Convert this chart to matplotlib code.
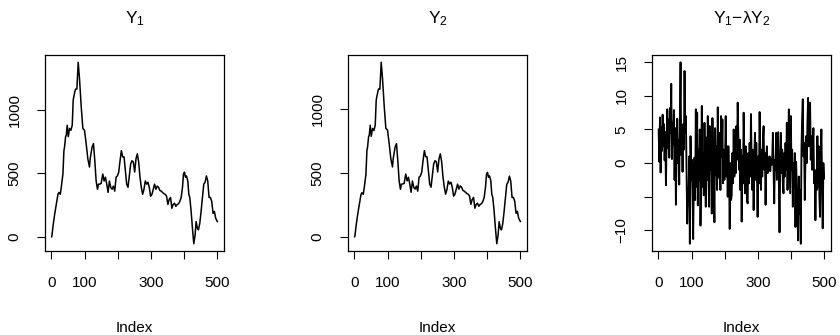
import numpy as np
import matplotlib.pyplot as plt

plt.rcParams['font.family'] = ['Liberation Sans', 'DejaVu Sans']
plt.rcParams['mathtext.fontset'] = 'custom'
plt.rcParams['mathtext.rm'] = 'Liberation Sans'
plt.rcParams['mathtext.it'] = 'Liberation Sans:italic'

# index positions
idx = [1, 2, 5, 10, 15, 20, 23, 27, 30, 35, 38, 40, 43, 45, 48, 51, 55, 59, 63, 66,
       70, 73, 77, 81, 85, 90, 95, 100, 105, 110, 115, 117, 123, 127, 131, 135, 139,
       142, 145, 150, 155, 159, 163, 167, 171, 175, 179, 183, 187, 191, 195, 199,
       203, 207, 211, 215, 219, 223, 227, 231, 235, 239, 243, 247, 251, 255, 259,
       263, 267, 271, 275, 279, 283, 287, 291, 295, 299, 303, 307, 311, 315, 319,
       323, 327, 331, 335, 339, 343, 347, 351, 355, 359, 363, 367, 371, 375, 379,
       383, 387, 391, 395, 398, 401, 404, 407, 411, 414, 417, 421, 425, 429, 433,
       436, 440, 443, 447, 451, 455, 459, 463, 467, 471, 475, 479, 483, 487, 491,
       495, 500]

y1 = [0, 10, 80, 175, 255, 335, 350, 335, 390, 495, 680, 710, 790, 800, 880, 790,
      855, 840, 880, 1080, 1135, 1165, 1165, 1377, 1245, 1030, 855, 840, 735, 615,
      550, 615, 710, 735, 600, 440, 375, 415, 415, 420, 495, 440, 470, 415, 350,
      440, 390, 375, 400, 360, 470, 480, 510, 600, 680, 630, 630, 520, 415, 390,
      480, 575, 600, 590, 510, 615, 655, 590, 470, 390, 335, 375, 440, 415, 430,
      390, 320, 335, 375, 415, 375, 400, 390, 365, 360, 350, 340, 335, 320, 255,
      295, 310, 225, 255, 265, 240, 255, 260, 280, 310, 390, 495, 510, 470, 480,
      440, 335, 310, 200, 65, -55, 15, 120, 65, 55, 105, 200, 310, 415, 430, 480,
      440, 310, 310, 280, 185, 200, 145, 120]

y2 = [0, 9, 78, 172, 252, 330, 346, 333, 386, 490, 676, 704, 784, 797, 875, 788,
      850, 834, 876, 1074, 1128, 1160, 1158, 1370, 1240, 1028, 851, 838, 732, 612,
      548, 611, 706, 731, 598, 438, 372, 413, 414, 418, 492, 439, 467, 414, 349,
      438, 388, 374, 398, 358, 468, 477, 507, 598, 676, 628, 627, 519, 413, 389,
      477, 572, 597, 588, 509, 612, 651, 589, 469, 389, 334, 372, 437, 414, 428,
      388, 319, 334, 372, 413, 374, 399, 389, 364, 358, 349, 339, 334, 319, 254,
      293, 309, 224, 254, 263, 239, 254, 259, 278, 309, 388, 491, 505, 467, 478,
      439, 333, 309, 199, 64, -55, 15, 118, 64, 54, 104, 198, 308, 412, 427, 476,
      437, 308, 309, 279, 184, 199, 144, 120]

# residual series, every second index from 1 to 499
res_idx = np.arange(1, 500, 2)
resid = [5.0, 0.2, 6.8, -1.4, 5.4, 1.8, 7.2, 2.5, 5.8, 0.4, 4.6, -3.3, 3.5, 8.0, 2.2,
         6.5, 0.8, 8.2, 4.5, 11.8, 0.6, 6.0, 2.8, 7.9, -2.5,
         5.2, -6.2, 1.5, 6.6, 0.0, 3.4, -3.2, 6.8, 15.0, 1.2, 5.6, -1.3, 5.8, 2.0,
         13.7, 4.5, 7.0, -1.0, -9.0, -4.5, -5.2, 1.0, -12.0, 4.0, -2.5,
         0.5, -4.0, -11.3, -2.0, 0.8, -5.5, 8.0, -3.5, 7.5, -6.3, 2.0, -2.5, 5.0,
         -9.3, -1.5, 8.5, -3.5, 1.5, -4.8, 6.0, -1.0, -6.5, 3.8, -2.5, 7.0,
         -2.0, -6.5, 5.5, -1.0, 4.6, -7.5, 6.7, 0.5, -3.0, -8.8, 5.2, -1.8, 2.5,
         -4.0, 8.3, 0.0, -2.2, 4.5, -4.0, 7.0, 1.0, 6.5, -3.0, 2.0, -2.5,
         0.5, 7.0, -2.0, 2.5, -5.0, 2.5, -1.5, -9.8, 0.0, -5.5, -4.8, 1.5, -3.0,
         5.0, -2.0, 3.5, -1.5, 5.5, 0.5, 9.0, 4.0, -1.0, 3.5, -4.0, 2.0,
         -8.7, 1.0, -3.0, 7.5, 0.0, -4.5, 2.5, -1.0, -5.5, -6.0, 1.5, -3.0, 3.0,
         -2.0, 7.3, 0.0, -4.0, 2.0, -7.0, 0.5, 4.5, -2.5, 3.0, -1.5, -8.0,
         1.0, -3.0, 7.6, 0.5, -4.0, 2.0, -2.0, 3.5, 5.5, -1.0, 1.5, -6.2, 0.5,
         2.5, -1.5, 0.8, -0.5, 1.0, -1.2, 0.6, -0.3, 0.8, 4.5, -0.8, -6.0,
         0.5, -1.0, 4.5, -2.5, 1.0, 4.6, -3.5, -10.3, 0.0, 4.5, -1.5, 2.0, -3.0,
         -4.5, 1.5, -2.0, 3.0, -1.0, 6.0, -4.0, 1.0, 8.0, 2.0, -4.5, 7.0,
         -1.0, 2.0, -6.5, 0.0, -3.5, 1.5, -9.5, 0.2, -4.0, -8.0, -11.5, -2.0, -7.5,
         -4.0, -12.0, 2.0, 6.5, 9.5, 1.0, 3.0, -5.5, 0.5, 4.0, 0.0, 6.0,
         9.7, 2.5, 5.0, 9.0, 0.5, 4.0, -1.0, 2.0, 5.2, -3.0, -1.0, -8.5, -2.5,
         -4.0, 4.0, -3.5, 2.5, -5.0, -8.0, 1.0, 5.0, -2.0, -9.7, 0.0, -2.3]

titles = [r'$\mathrm{Y}_1$', r'$\mathrm{Y}_2$', r'$\mathrm{Y}_1{-}\mathrm{λY}_2$']
xticks = [0, 100, 200, 300, 400, 500]
xticklabels = ['0', '100', '', '300', '', '500']

fig = plt.figure(figsize=(8.4, 3.35), dpi=100)
lefts = [45, 348, 652]
widths = [1.1, 1.1, 1.35]
panels = [(idx, y1, [0, 500, 1000], ['0', '500', '1000']),
          (idx, y2, [0, 500, 1000], ['0', '500', '1000']),
          (res_idx, resid, [-10, -5, 0, 5, 10, 15], ['\u221210', '', '0', '5', '10', '15'])]

for i, (x, y, yt, ytl) in enumerate(panels):
    ax = fig.add_axes([lefts[i] / 840, 1 - 251 / 335, 179 / 840, 196 / 335])
    ax.plot(x, y, color='black', linewidth=widths[i])

    # R-style 4% padding on both axes
    ax.set_xlim(1 - 0.04 * 499, 500 + 0.04 * 499)
    lo, hi = min(y), max(y)
    ax.set_ylim(lo - 0.04 * (hi - lo), hi + 0.04 * (hi - lo))

    ax.set_xticks(xticks)
    ax.set_xticklabels(xticklabels)
    ax.set_yticks(yt)
    ax.set_yticklabels(ytl)
    ax.tick_params(length=6, width=0.8, labelsize=11, pad=12)
    ax.tick_params(axis='y', labelrotation=90, pad=11)
    plt.setp(ax.get_yticklabels(), va='center')
    for s in ax.spines.values():
        s.set_linewidth(0.9)

    ax.set_title(titles[i], fontsize=12.5, pad=23)
    ax.set_xlabel('Index', fontsize=11, labelpad=22)

plt.savefig('out.png', dpi=100)
